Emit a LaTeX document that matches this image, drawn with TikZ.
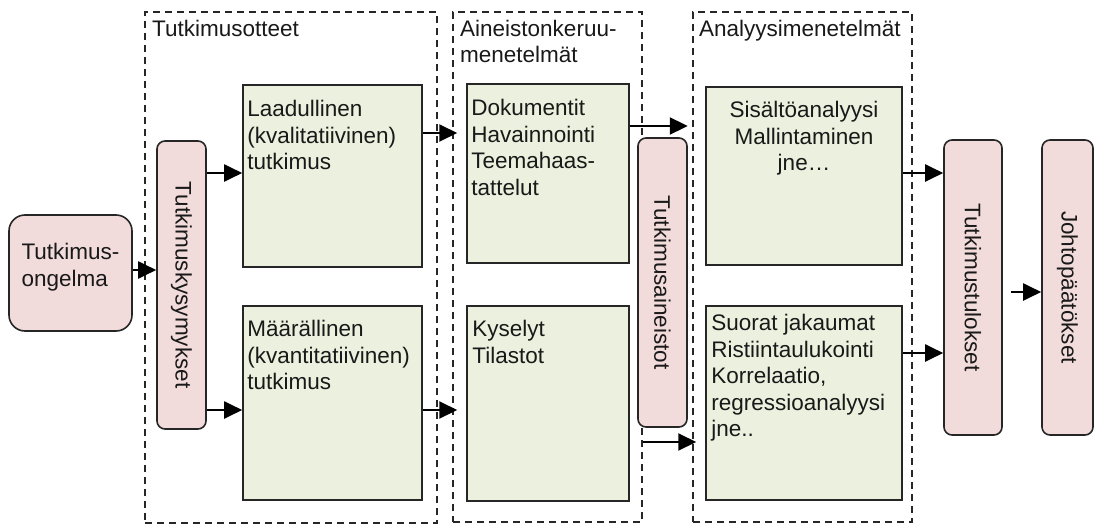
\documentclass[tikz,border=0pt]{standalone}
\usepackage{fontspec}
\setmainfont{Liberation Sans}
\usepackage{graphicx}
\usepackage{tikz}
\usetikzlibrary{arrows.meta, positioning}

\definecolor{pinkfill}{HTML}{F2DCDB}
\definecolor{greenfill}{HTML}{EBF1DE}

\tikzset{
	problem/.style={draw=black!85, line width=1.6pt, fill=pinkfill, rounded corners=8pt, inner sep=0pt},
	method/.style={draw=black!85, line width=1.6pt, fill=greenfill, inner sep=0pt},
	group/.style={draw=black!85, line width=1.5pt, dash pattern=on 7pt off 5pt, inner sep=0pt},
	txt/.style={inner sep=0pt, align=left, anchor=north west},
	arr/.style={-{Triangle[length=18pt,width=17pt]}, line width=2pt}
}
\newcommand{\vtext}[1]{\rotatebox{-90}{#1}}

\begin{document}
\begin{tikzpicture}[x=1pt, y=-1pt, font=\fontsize{22.5}{26.5}\selectfont, text=black!90]
	\useasboundingbox (0,0) rectangle (1095,525);
	% dashed groups
	\node[group, minimum width=292pt, minimum height=511pt] (otteet) at (291,267.5) {};
	\node[group, minimum width=189pt, minimum height=510pt] (keruu) at (547.5,267) {};
	\node[group, minimum width=219pt, minimum height=510pt] (analyysi) at (802.5,267) {};
	\node[txt, anchor=base west] (otteetlbl) at (152,36) {Tutkimusotteet};
	\node[txt] (keruulbl) at (460,19.6) {Aineistonkeruu-\\menetelmät};
	\node[txt, anchor=base west] (analyysilbl) at (699,36) {Analyysimenetelmät};

	% method boxes
	\node[method, minimum width=179pt, minimum height=182pt] (laad) at (332.5,176) {};
	\node[method, minimum width=179pt, minimum height=194pt] (maar) at (332.5,403) {};
	\node[method, minimum width=162pt, minimum height=179pt] (dok) at (548,173.5) {};
	\node[method, minimum width=162pt, minimum height=195pt] (kysely) at (548,403.5) {};
	\node[method, minimum width=196pt, minimum height=178pt] (sis) at (804,176) {};
	\node[method, minimum width=196pt, minimum height=194pt] (suorat) at (804,403) {};
	\node[txt] (laadtxt) at ([shift={(5,16)}]laad.north west) {Laadullinen\\(kvalitatiivinen)\\tutkimus};
	\node[txt] (maartxt) at ([shift={(5,15)}]maar.north west) {Määrällinen\\(kvantitatiivinen)\\tutkimus};
	\node[txt] (doktxt) at ([shift={(5,16)}]dok.north west) {Dokumentit\\Havainnointi\\Teemahaas-\\tattelut};
	\node[txt] (kyselytxt) at ([shift={(6,15)}]kysely.north west) {Kyselyt\\Tilastot};
	\node[txt, anchor=north, align=center] (sistxt) at ([shift={(0,15)}]sis.north) {Sisältöanalyysi\\Mallintaminen\\jne…};
	\node[txt] (suorattxt) at ([shift={(6,9)}]suorat.north west) {Suorat jakaumat\\Ristiintaulukointi\\Korrelaatio,\\regressioanalyysi\\jne..};

	% pink boxes
	\node[problem, rounded corners=16pt, minimum width=123pt, minimum height=116pt, align=left, text depth=16pt] (ongelma) at (70.5,273) {Tutkimus-\\ongelma};
	\node[problem, minimum width=49pt, minimum height=288pt] (kysym) at (181.5,285) {\vtext{Tutkimuskysymykset}};
	\node[problem, minimum width=49pt, minimum height=289pt] (aineistot) at (662.5,282.5) {\vtext{Tutkimusaineistot}};
	\node[problem, minimum width=58pt, minimum height=295pt] (tulokset) at (973,287.5) {\vtext{Tutkimustulokset}};
	\node[problem, minimum width=51pt, minimum height=295pt] (johto) at (1067.5,287.5) {\vtext{Johtopäätökset}};

	\coordinate (keruuin) at ([xshift=5pt]keruu.west);
	\coordinate (analyysiin) at ([xshift=4pt]analyysi.west);
	\coordinate (tulout) at ([xshift=8pt]tulokset.east);
	\draw[arr] (ongelma.east |- 0,270) -- (kysym.west |- 0,270);
	\draw[arr] (kysym.east |- 0,173) -- (laad.west |- 0,173);
	\draw[arr] (kysym.east |- 0,410) -- (maar.west |- 0,410);
	\draw[arr] (laad.east |- 0,133) -- (keruuin |- 0,133);
	\draw[arr] (maar.east |- 0,410) -- (keruuin |- 0,410);
	\draw[arr] (dok.east |- 0,126) -- (aineistot.east |- 0,126);
	\draw[arr] (keruu.east |- 0,442) -- (analyysiin |- 0,442);
	\draw[arr] (sis.east |- 0,173) -- (tulokset.west |- 0,173);
	\draw[arr] (suorat.east |- 0,353) -- (tulokset.west |- 0,353);
	\draw[arr] (tulout |- 0,292) -- (johto.west |- 0,292);
\end{tikzpicture}
\end{document}
